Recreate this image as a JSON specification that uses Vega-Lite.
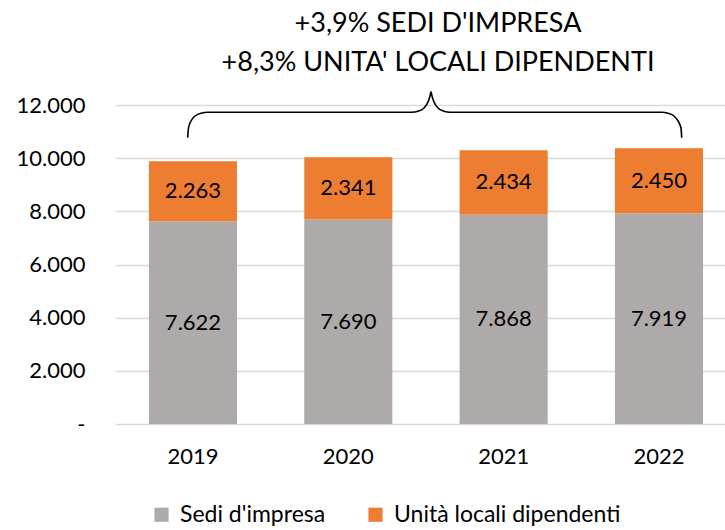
{
  "$schema": "https://vega.github.io/schema/vega-lite/v6.json",
  "width": 610,
  "height": 319,
  "autosize": {"type": "none"},
  "padding": {"left": 115, "top": 105, "right": 0, "bottom": 106},
  "background": "white",
  "config": {
    "locale": {"number": {"decimal": ",", "thousands": ".", "grouping": [3], "currency": ["€", ""]}},
    "font": "Lato",
    "view": {"stroke": null}
  },
  "title": {
    "text": ["+3,9% SEDI D'IMPRESA", "+8,3% UNITA' LOCALI DIPENDENTI"],
    "font": "Lato",
    "fontSize": 27,
    "fontWeight": "normal",
    "color": "black",
    "lineHeight": 39,
    "anchor": "middle",
    "dx": 18,
    "offset": 11
  },
  "layer": [
    {
      "data": {
        "values": [
          {"year": "2019", "series": "Sedi d'impresa", "value": 7622},
          {"year": "2019", "series": "Unità locali dipendenti", "value": 2263},
          {"year": "2020", "series": "Sedi d'impresa", "value": 7690},
          {"year": "2020", "series": "Unità locali dipendenti", "value": 2341},
          {"year": "2021", "series": "Sedi d'impresa", "value": 7868},
          {"year": "2021", "series": "Unità locali dipendenti", "value": 2434},
          {"year": "2022", "series": "Sedi d'impresa", "value": 7919},
          {"year": "2022", "series": "Unità locali dipendenti", "value": 2450}
        ]
      },
      "layer": [
        {
          "mark": {"type": "bar"},
          "encoding": {
            "x": {
              "field": "year", "type": "nominal",
              "scale": {"paddingInner": 0.433, "paddingOuter": 0.18, "align": 0.607},
              "axis": {"title": null, "labelAngle": 0, "domain": false, "ticks": false, "tickSize": 0, "labelFontSize": 22, "labelPadding": 22, "labelColor": "black", "labelFont": "Lato"}
            },
            "y": {
              "field": "value", "type": "quantitative", "stack": "zero",
              "scale": {"domain": [0, 12000], "nice": false},
              "axis": {
                "title": null,
                "values": [0, 2000, 4000, 6000, 8000, 10000, 12000],
                "format": ",d",
                "labelExpr": "datum.value === 0 ? '-\u00a0\u00a0' : datum.label",
                "grid": true, "gridColor": "#D9D9D9", "gridWidth": 1.3,
                "domain": false, "ticks": false, "tickSize": 0,
                "labelPadding": 30, "labelFontSize": 22, "labelColor": "black", "labelFont": "Lato"
              }
            },
            "color": {
              "field": "series", "type": "nominal",
              "scale": {"domain": ["Sedi d'impresa", "Unità locali dipendenti"], "range": ["#AEAAAA", "#ED7D31"]},
              "legend": {
                "title": null, "orient": "none", "legendX": 35, "legendY": 398,
                "direction": "horizontal", "symbolType": "square", "symbolSize": 200,
                "symbolStrokeWidth": 0, "labelFontSize": 23, "labelFont": "Lato",
                "labelColor": "black", "labelOffset": 7, "columnPadding": 38, "labelLimit": 0
              }
            },
            "order": {"field": "series", "sort": "ascending"}
          }
        },
        {
          "mark": {"type": "text", "fontSize": 22, "color": "black", "baseline": "middle", "font": "Lato"},
          "encoding": {
            "x": {"field": "year", "type": "nominal"},
            "y": {"field": "value", "type": "quantitative", "stack": "zero", "bandPosition": 0.5},
            "detail": {"field": "series"},
            "order": {"field": "series", "sort": "ascending"},
            "text": {"field": "value", "type": "quantitative", "format": ",d"}
          }
        }
      ]
    },
    {
      "data": {
        "values": [
          {"bx": 0.4767, "by": 10771},
          {"bx": 0.4820, "by": 11136},
          {"bx": 0.4984, "by": 11399},
          {"bx": 0.5246, "by": 11587},
          {"bx": 0.5639, "by": 11689},
          {"bx": 0.6098, "by": 11726},
          {"bx": 1.9456, "by": 11726},
          {"bx": 1.9869, "by": 11764},
          {"bx": 2.0262, "by": 11888},
          {"bx": 2.0525, "by": 12114},
          {"bx": 2.0656, "by": 12339},
          {"bx": 2.0721, "by": 12501},
          {"bx": 2.0787, "by": 12339},
          {"bx": 2.0918, "by": 12114},
          {"bx": 2.1180, "by": 11888},
          {"bx": 2.1574, "by": 11764},
          {"bx": 2.1967, "by": 11726},
          {"bx": 3.5849, "by": 11726},
          {"bx": 3.6262, "by": 11689},
          {"bx": 3.6656, "by": 11587},
          {"bx": 3.6918, "by": 11399},
          {"bx": 3.7115, "by": 11136},
          {"bx": 3.7161, "by": 10771}
        ]
      },
      "mark": {"type": "line", "color": "black", "strokeWidth": 1.6, "interpolate": "monotone", "clip": false},
      "encoding": {
        "x": {"field": "bx", "type": "quantitative", "scale": {"domain": [0, 4], "nice": false, "zero": false}, "axis": null},
        "y": {"field": "by", "type": "quantitative", "scale": {"domain": [0, 12000], "nice": false}, "axis": null}
      }
    }
  ],
  "resolve": {"scale": {"x": "independent", "y": "independent"}}
}
